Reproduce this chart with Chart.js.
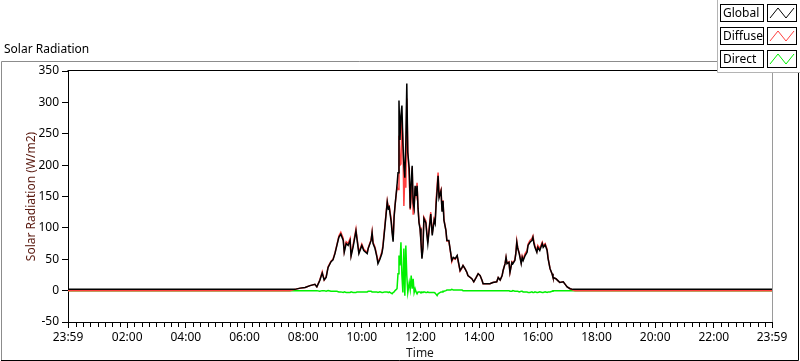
<!DOCTYPE html>
<html>
<head>
<meta charset="utf-8">
<script src="https://cdn.jsdelivr.net/npm/chart.js@4.4.1/dist/chart.umd.min.js"></script>
<style>
html,body{margin:0;padding:0;background:#fff;}
#wrap{position:relative;width:800px;height:361px;}
</style>
</head>
<body>
<div id="wrap"><canvas id="c" width="800" height="361"></canvas></div>
<script>
// ---- data (minutes since midnight; -1 = 23:59 of previous day) ----
const times = [-1,453,463,474,484,494,504,508,514,519,523,527,531,537,541,545,549,553,557,562,564,568,572,576,578,582,588,590,594,600,604,611,613,619,621,623,627,631,633,637,641,643,647,652,654,656,660,662,664,666,668,672,674,676,678,680,682,684,686,688,690,692,694,697,699,701,703,705,707,709,711,713,715,717,719,721,723,725,727,731,733,735,737,741,744,748,750,752,754,756,758,762,764,766,768,772,774,778,782,784,787,791,795,797,801,805,807,811,815,817,825,829,834,838,842,846,848,856,862,868,876,879,883,887,889,893,895,897,901,903,907,909,913,915,917,919,922,926,928,930,934,938,940,944,948,950,952,954,958,960,964,969,971,975,979,981,985,989,991,997,1001,1005,1012,1016,1020,1026,1032,1036,1439];
const globalRad = [2,2,2,4,5,8,10,6,16,28,17,21,37,46,49,59,72,85,90,80,61,75,72,80,55,69,95,83,59,72,64,59,67,80,92,75,67,53,43,50,59,68,100,141,131,133,110,92,78,117,136,168,188,303,240,279,295,236,200,180,236,330,220,194,131,172,199,140,131,167,151,167,131,108,99,77,51,67,115,108,90,75,91,122,88,112,107,138,159,183,148,159,127,143,112,96,80,80,59,48,53,51,56,48,32,37,40,35,29,24,19,14,21,27,24,16,11,11,11,13,14,21,17,24,32,43,53,43,45,29,45,43,48,59,77,67,59,43,53,48,56,61,72,77,80,85,75,69,61,69,64,75,69,73,64,51,35,27,21,19,16,13,14,10,6,3,2,2,2];
const diffuseRad = [0,0,2,4,5,8,10,6,17,30,17,22,38,47,50,60,73,87,93,83,63,78,75,83,57,72,98,85,61,74,66,61,68,81,94,77,69,55,46,52,62,71,102,143,134,135,114,97,81,119,136,165,161,247,200,202,271,239,135,188,164,306,223,181,129,148,196,121,134,164,153,172,133,110,101,80,53,70,117,111,93,77,94,125,91,115,111,144,167,188,152,161,129,144,113,96,79,79,58,46,52,50,55,47,31,36,40,35,29,24,19,14,21,27,24,16,11,11,11,13,14,21,17,24,32,43,53,44,46,29,46,44,49,60,79,68,60,45,55,50,59,64,74,80,83,87,78,72,63,72,67,77,72,75,66,52,35,27,21,19,16,13,14,10,6,3,1,0,0];
const directRad = [0,0,0,0,0,0,0,0,-1,0,0,-1,0,-1,-1,-1,-1,-2,-2,-3,-2,-3,-3,-3,-2,-3,-3,-2,-2,-2,-2,-2,-1,-1,-2,-2,-2,-2,-3,-2,-3,-3,-2,-2,-3,-2,-4,-5,-3,-2,0,3,27,56,40,77,24,-3,67,-8,72,24,-3,13,2,24,3,19,-3,3,-2,-5,-2,-2,-2,-3,-2,-3,-2,-3,-3,-2,-3,-3,-3,-3,-4,-6,-8,-5,-4,-2,-2,-1,-1,0,1,1,1,2,1,1,1,1,1,1,0,0,0,0,0,0,0,0,0,0,0,0,0,0,0,0,0,0,0,0,0,0,0,-1,-1,0,-1,-1,-1,-1,-2,-1,-1,-2,-2,-2,-3,-3,-2,-3,-3,-2,-3,-3,-2,-3,-3,-2,-3,-2,-2,-1,0,0,0,0,0,0,0,0,0,0,0,0,0,0];
const seriesNames = ['Global','Diffuse','Direct'];
const seriesColors = ['#000000','#ff4040','#00f000'];
const xTickValues = [-1,120,240,360,480,600,720,840,960,1080,1200,1320,1439];
const xTickLabels = ['23:59','02:00','04:00','06:00','08:00','10:00','12:00','14:00','16:00','18:00','20:00','22:00','23:59'];
const yTickValues = [-50,0,50,100,150,200,250,300,350];
const chartTitle = 'Solar Radiation';
const yTitle = 'Solar Radiation (W/m2)';
const xTitle = 'Time';

const FONT = "'Noto Sans', 'Open Sans', sans-serif";

function pts(vals){ return times.map((t,i)=>({x:t,y:vals[i]})); }

const deco = {
  id:'deco',
  beforeDraw(chart){
    const ctx = chart.ctx;
    ctx.save();
    ctx.fillStyle='#fff';
    ctx.fillRect(0,0,chart.width,chart.height);
    ctx.restore();
  },
  afterDraw(chart){
    const ctx = chart.ctx, a = chart.chartArea;
    const xs = chart.scales.x;
    ctx.save();
    // outer panel
    ctx.lineWidth=1;
    ctx.strokeStyle='#8c8c8c';
    ctx.beginPath();
    ctx.moveTo(1.5,360); ctx.lineTo(1.5,61.5); ctx.lineTo(717,61.5);
    ctx.stroke();
    ctx.strokeStyle='#000';
    ctx.beginPath();
    ctx.moveTo(1,360.5); ctx.lineTo(798.5,360.5); ctx.lineTo(798.5,72);
    ctx.stroke();
    // plot frame top and right
    ctx.strokeStyle='#000';
    ctx.beginPath();
    ctx.moveTo(a.left-0.5,a.top-0.5); ctx.lineTo(a.right+0.5,a.top-0.5);
    ctx.stroke();
    ctx.strokeStyle='#9a9a9a';
    ctx.beginPath();
    ctx.moveTo(a.right+0.5,a.top-0.5); ctx.lineTo(a.right+0.5,a.bottom);
    ctx.stroke();
    // minor x ticks every 15 min
    ctx.strokeStyle='#000';
    ctx.beginPath();
    for(let m=15;m<1440;m+=15){
      if(m%120===0) continue;
      const px = Math.round(xs.getPixelForValue(m))+0.5;
      ctx.moveTo(px,a.bottom+1); ctx.lineTo(px,a.bottom+5);
    }
    ctx.stroke();
    // chart title
    ctx.fillStyle='#000';
    ctx.font = "12px "+FONT;
    ctx.textBaseline='middle';
    ctx.textAlign='left';
    ctx.fillText(chartTitle,4,50);
    // legend panel
    ctx.fillStyle='#fff';
    ctx.fillRect(717,0,83,72);
    ctx.strokeStyle='#b4b4b4';
    ctx.beginPath();
    ctx.moveTo(717.5,0); ctx.lineTo(717.5,72.5); ctx.lineTo(800,72.5);
    ctx.stroke();
    const rows=[4,27,50];
    chart.data.datasets.forEach((ds,i)=>{
      const y=rows[i];
      ctx.strokeStyle='#000';
      ctx.fillStyle='#fff';
      ctx.fillRect(721,y,42,17);
      ctx.strokeRect(720.5,y+0.5,43,17);
      ctx.strokeRect(767.5,y+0.5,29,17);
      ctx.fillStyle='#000';
      ctx.textAlign='left';
      ctx.fillText(ds.label,723,y+9.5);
      ctx.strokeStyle=ds.borderColor;
      ctx.beginPath();
      ctx.moveTo(770,y+14); ctx.lineTo(778,y+4); ctx.lineTo(786,y+14); ctx.lineTo(794,y+4);
      ctx.stroke();
    });
    ctx.restore();
  }
};

new Chart(document.getElementById('c'),{
  type:'line',
  data:{
    datasets:[
      {label:seriesNames[0],data:pts(globalRad),borderColor:seriesColors[0],borderWidth:1.5},
      {label:seriesNames[1],data:pts(diffuseRad),borderColor:seriesColors[1],borderWidth:1.5},
      {label:seriesNames[2],data:pts(directRad),borderColor:seriesColors[2],borderWidth:1.5}
    ]
  },
  options:{
    responsive:false,
    animation:false,
    events:[],
    parsing:true,
    elements:{point:{radius:0},line:{tension:0}},
    layout:{padding:{top:71,right:28,left:0,bottom:0}},
    plugins:{legend:{display:false},tooltip:{enabled:false},title:{display:false}},
    scales:{
      x:{
        type:'linear',min:-1,max:1439,
        afterBuildTicks(s){ s.ticks = xTickValues.map(v=>({value:v})); },
        afterFit(s){ s.height=39; },
        ticks:{autoSkip:false,maxRotation:0,padding:2,color:'#000',font:{family:FONT,size:12},
          callback(v){ const i=xTickValues.indexOf(v); return i>=0?xTickLabels[i]:''; }},
        grid:{drawOnChartArea:false,drawTicks:true,tickLength:6,tickColor:'#000'},
        border:{display:true,color:'#000',width:1},
        title:{display:true,text:xTitle,color:'#1a1a1a',font:{family:FONT,size:12},padding:{top:0,bottom:0}}
      },
      y:{
        min:-50,max:350,
        afterBuildTicks(s){ s.ticks = yTickValues.map(v=>({value:v})); },
        afterFit(s){ s.width=68; },
        ticks:{padding:3,color:'#000',font:{family:FONT,size:12}},
        grid:{drawOnChartArea:false,drawTicks:true,tickLength:6,tickColor:'#000'},
        border:{display:true,color:'#000',width:1},
        title:{display:true,text:yTitle,color:'#5a1a10',font:{family:FONT,size:12},padding:{top:24,bottom:0}}
      }
    }
  },
  plugins:[deco]
});
</script>
</body>
</html>
